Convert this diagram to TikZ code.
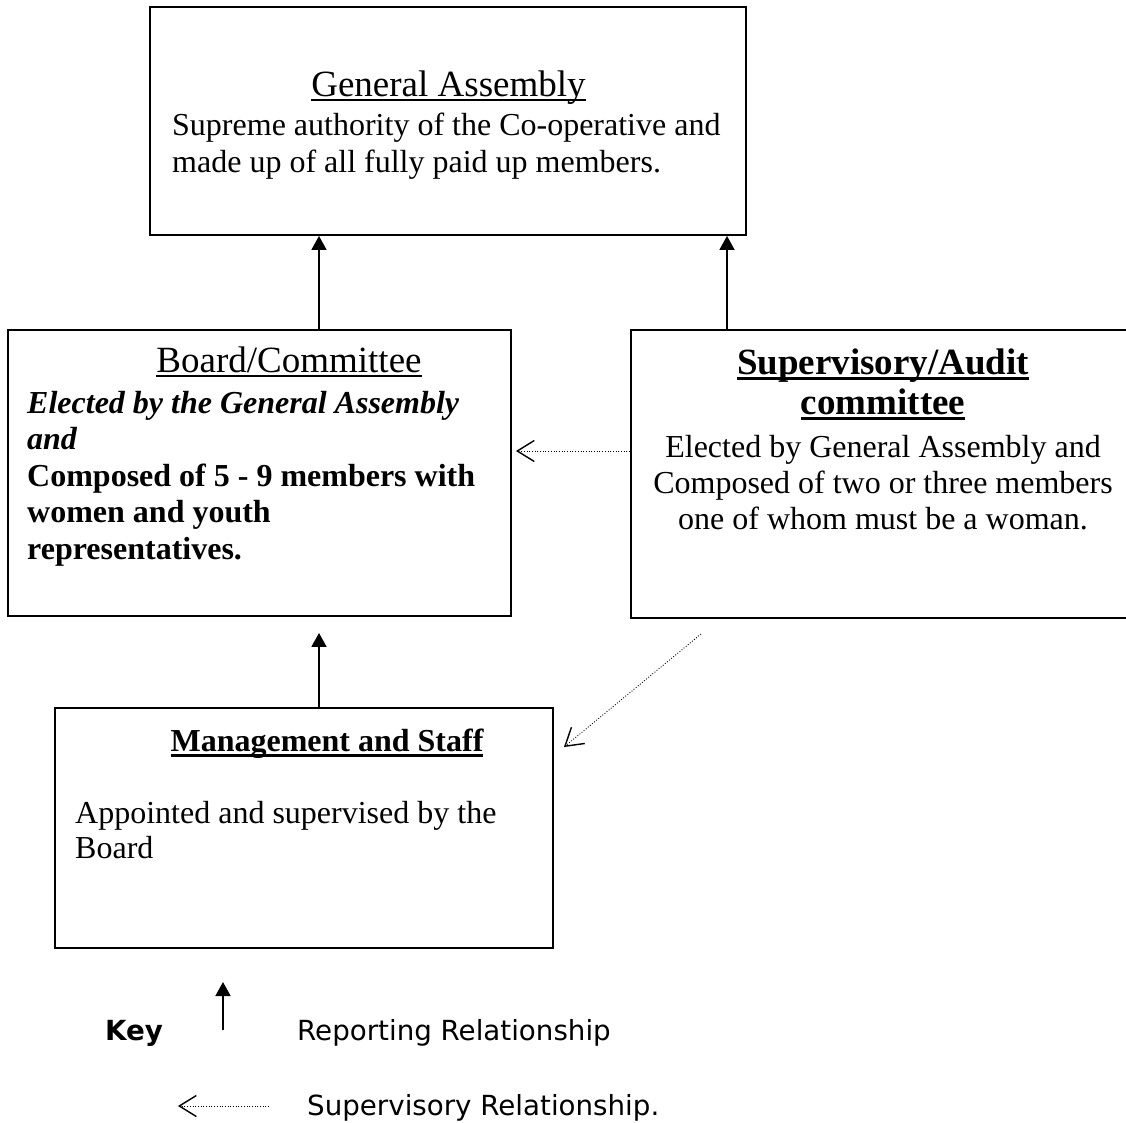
\documentclass[tikz,border=0pt]{standalone}
\usepackage{fontspec}
\setmainfont{Liberation Serif}
\newfontfamily\keyfont{DejaVu Sans}
\usepackage{tikz}
\usetikzlibrary{
  arrows.meta,
  positioning
}
\newcommand{\undl}[2][2pt]{%
  \setbox0\hbox{#2}\rlap{\vrule height -3pt depth \dimexpr3pt+#1\relax width \wd0}\box0}
\tikzset{
  orgbox/.style={
    draw,
    line width=1.9pt,
    inner sep=0pt
  }
}

\begin{document}
\begin{tikzpicture}[
      x=1pt, y=-1pt,
      every node/.style={inner sep=0pt},
      title/.style={font=\fontsize{37}{42}\selectfont, anchor=base},
      body/.style={font=\fontsize{32}{37}\selectfont, anchor=base west},
      centred/.style={font=\fontsize{32}{37}\selectfont, anchor=base},
      keytext/.style={font=\keyfont\fontsize{27.7}{33}\selectfont, anchor=base west},
      report/.style={-{Triangle[length=14pt,width=15pt]}, line width=1.8pt},
      superv/.style={-{Straight Barb[length=17pt,width=21pt,line width=1.4pt]},
        line width=0.9pt, dash pattern=on 0.9pt off 1.8pt}
      ]
      \useasboundingbox (0,0) rectangle (1126,1122);

      % boxes
      \node[orgbox, minimum width=596, minimum height=228] (ga) at (448,121) {};
      \node[orgbox, minimum width=503, minimum height=286] (board) at (259.5,473) {};
      \node[orgbox, minimum width=504, minimum height=288] (audit) at (883,474) {};
      \node[orgbox, minimum width=498, minimum height=240] (mgmt) at (304,828) {};

      % General Assembly
      \node[title] (gatitle) at (448.5,96) {\undl{General Assembly}};
      \foreach \txt [count=\k] in {Supreme authority of the Co-operative and,
        made up of all fully paid up members.}{
        \node[body] (ga\k) at (172,98+37*\k) {\txt};
      }

      % Board/Committee
      \node[title] (boardtitle) at (289,372) {\undl{Board/Committee}};
      \foreach \txt/\fnt [count=\k] in {Elected by the General Assembly/\bfseries\itshape,
        and/\bfseries\itshape, Composed of 5 - 9 members with/\bfseries,
        women and youth/\bfseries, representatives./\bfseries}{
        \node[body] (board\k) at (27,376.5+36.6*\k) {\fnt\txt};
      }

      % Supervisory/Audit committee
      \node[title, font=\fontsize{37}{42}\selectfont\bfseries] (audittitle) at (883,374)
        {\undl[3pt]{Supervisory/Audit}};
      \node[title, font=\fontsize{37}{42}\selectfont\bfseries] (audittitle2) at (883,414)
        {\undl[3pt]{committee}};
      \foreach \txt [count=\k] in {Elected by General Assembly and,
        Composed of two or three members, one of whom must be a woman.}{
        \node[centred] (audit\k) at (883,421+36*\k) {\txt};
      }

      % Management and Staff
      \node[centred, font=\fontsize{32}{37}\selectfont\bfseries] (mgmttitle) at (327,751)
        {\undl[2.5pt]{Management and Staff}};
      \foreach \txt [count=\k] in {Appointed and supervised by the, Board}{
        \node[body] (mgmt\k) at (75,788+35*\k) {\txt};
      }

      % connectors
      \coordinate (lft) at (319,0);
      \coordinate (rgt) at (727,0);
      \coordinate (sup) at (0,451);
      \draw[report] (board.north -| lft) -- (ga.south -| lft);
      \draw[report] (audit.north -| rgt) -- (ga.south -| rgt);
      \draw[report, shorten >=16pt] (mgmt.north -| lft) -- (board.south -| lft);
      \draw[superv, shorten >=4pt] (audit.west |- sup) -- (board.east |- sup);
      \draw[superv] ([shift={(71,15)}]audit.south west) -- ([shift={(10,40)}]mgmt.north east);

      % key
      \node[keytext, font=\keyfont\fontsize{27.7}{33}\selectfont\bfseries] (key) at (105,1040) {Key};
      \coordinate (repfrom) at (223,1030);
      \coordinate (supfrom) at (269,1106);
      \draw[report] (repfrom) -- ++(0,-48);
      \draw[superv] (supfrom) -- ++(-91,0);
      \node[keytext] (replabel) at (297,1040) {Reporting Relationship};
      \node[keytext] (suplabel) at (307,1115) {Supervisory Relationship.};
    \end{tikzpicture}
\end{document}
